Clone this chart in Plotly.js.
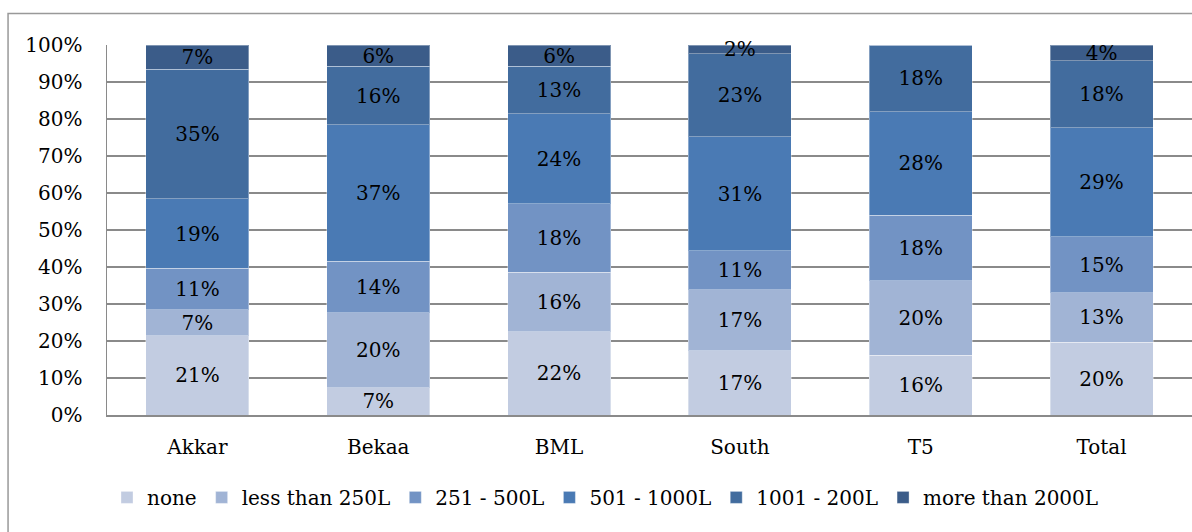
<!DOCTYPE html>
<html>
<head>
<meta charset="utf-8">
<script src="https://cdn.plot.ly/plotly-3.0.1.min.js"></script>
<style>html,body{margin:0;padding:0;background:#fff;}#chart{width:1192px;height:532px;}</style>
</head>
<body>
<div id="chart"></div>
<script>
const categories = ['Akkar', 'Bekaa', 'BML', 'South', 'T5', 'Total'];
const seriesNames = ['none', 'less than 250L', '251 - 500L', '501 - 1000L', '1001 - 200L', 'more than 2000L'];
const none       = [21.4,  7.4, 22.4, 17.4, 16.2, 19.7];
const lessThan250 = [7.1, 20.3, 16.1, 16.5, 20.1, 13.4];
const r251to500  = [11.1, 13.9, 18.4, 10.6, 17.7, 15.1];
const r501to1000 = [18.9, 36.8, 24.3, 30.8, 28.0, 29.4];
const r1001to2000 = [34.9, 15.9, 12.8, 22.5, 18.0, 18.2];
const moreThan2000 = [6.6,  5.7,  5.7,  2.3,  0.0,  4.2];
const seriesValues = [none, lessThan250, r251to500, r501to1000, r1001to2000, moreThan2000];
const colors = ['#c2cce1', '#a1b4d5', '#7293c4', '#4a7ab4', '#426c9e', '#3b5c89'];
const yTickVals = [0,10,20,30,40,50,60,70,80,90,100];

const FONT = 'DejaVu Serif, Liberation Serif, serif';

const traces = seriesValues.map((vals, i) => ({
  type: 'bar',
  name: seriesNames[i],
  x: categories,
  y: vals,
  marker: {color: colors[i], line: {color: 'rgba(255,255,255,0.35)', width: 1}},
  text: vals.map(v => v > 0 ? Math.round(v) + '%' : ''),
  textposition: 'inside',
  insidetextanchor: 'middle',
  textangle: 0,
  constraintext: 'none',
  cliponaxis: false,
  textfont: {family: FONT, size: 20, color: '#000'},
  hoverinfo: 'skip'
}));

const layout = {
  width: 1192, height: 532,
  barmode: 'stack',
  barnorm: 'percent',
  bargap: 0.43,
  paper_bgcolor: '#fff', plot_bgcolor: '#fff',
  margin: {l: 107, r: 0, t: 45, b: 117},
  font: {family: FONT, size: 20, color: '#000'},
  xaxis: {
    type: 'category',
    showgrid: false,
    showline: true, linecolor: '#8a8a8a', linewidth: 1.5,
    ticks: '', tickfont: {family: FONT, size: 20, color: '#000'},
    ticklabelstandoff: 13
  },
  yaxis: {
    range: [0, 100],
    tickvals: yTickVals,
    ticktext: yTickVals.map(v => v + '%'),
    showgrid: true, gridcolor: '#8a8a8a', gridwidth: 1.5,
    showline: true, linecolor: '#8a8a8a', linewidth: 1.5,
    zeroline: false,
    ticks: '', tickfont: {family: FONT, size: 20, color: '#000'},
    ticklabelstandoff: 19
  },
  showlegend: true,
  legend: {
    orientation: 'h', x: 0.0, xanchor: 'left', y: -0.17, yanchor: 'top',
    traceorder: 'normal',
    font: {family: FONT, size: 20, color: '#000'},
    itemwidth: 30, itemclick: false, itemdoubleclick: false
  },
  shapes: [{type: 'rect', xref: 'paper', yref: 'paper', x0: -0.0912, x1: 1.2, y0: -0.5, y1: 1.085,
            line: {color: '#999999', width: 1.5}, fillcolor: 'rgba(0,0,0,0)', layer: 'below'}]
};

Plotly.newPlot('chart', traces, layout, {staticPlot: true});
</script>
</body>
</html>
